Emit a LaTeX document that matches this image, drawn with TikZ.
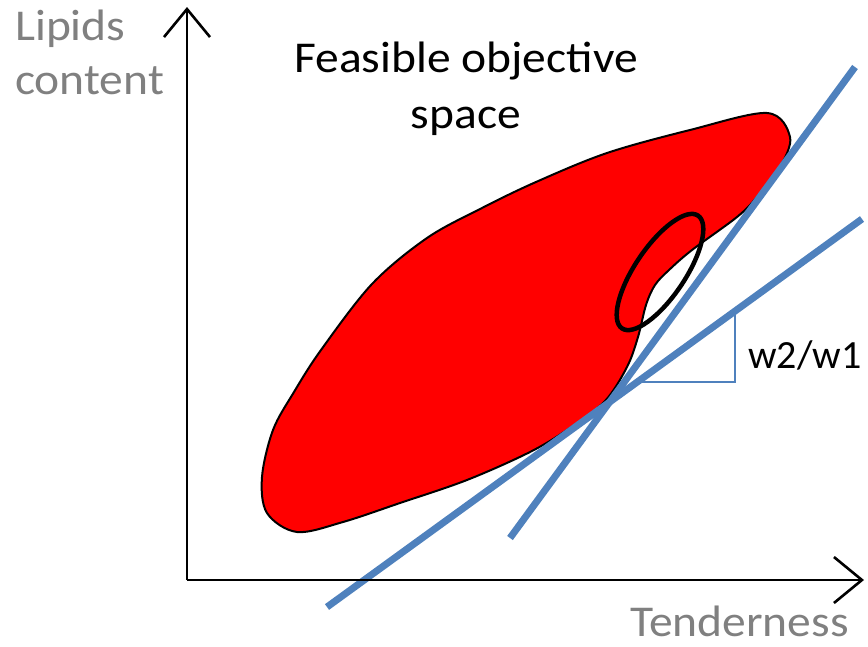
\documentclass[tikz,border=0pt]{standalone}
\usepackage{fontspec}
\setmainfont{Carlito}
\newfontfamily\widefont{Carlito}[FakeStretch=1.08]
\usetikzlibrary{arrows.meta}
\definecolor{blobred}{RGB}{255,0,0}
\definecolor{lineblue}{RGB}{79,129,189}
\definecolor{labelgray}{RGB}{128,128,128}
\begin{document}
\begin{tikzpicture}[x=1pt,y=-1pt,
  axis/.style={line width=2.6pt,-{Straight Barb[length=28pt,width=46pt]}},
  blob/.style={fill=blobred,draw=black,line width=2pt},
  tangent/.style={draw=lineblue,line width=7pt},
  slope/.style={draw=lineblue,line width=1.2pt},
  ring/.style={draw=black,line width=4.5pt},
  lbl/.style={inner sep=0pt,text=labelgray,font=\widefont\fontsize{44}{53}\selectfont},
  txt/.style={inner sep=0pt,text=black,font=\widefont\fontsize{44}{53}\selectfont},
  small/.style={inner sep=0pt,text=black,font=\fontsize{40}{48}\selectfont}]
\useasboundingbox (0,0) rectangle (868,646);
% blob
\draw[blob] plot[smooth cycle,tension=0.55] coordinates {
 (767,113) (690,130) (607,153) (536,182) (482,208) (427,238) (372,284)
 (321,350) (294,392) (273,430) (262,477) (267,513) (297,532) (343,522)
 (400,503) (467,480) (530,452) (570,428) (605,401) (627,367) (638,337)
 (646,305) (655,285) (669,270) (692,250) (737,217) (757,197) (780,167)
 (790,137)};
% tangent lines
\coordinate (s1) at (510,538);
\coordinate (s2) at (855,67);
\coordinate (t1) at (327,607);
\coordinate (t2) at (862,219);
\draw[tangent] (s1) -- (s2);
\draw[tangent] (t1) -- (t2);
% slope triangle
\coordinate (h1) at (639,382);
\coordinate (h2) at (735,382);
\coordinate (h3) at (735,314);
\draw[slope] (h1) -- (h2) -- (h3);
% ellipse
\coordinate (ec) at (660,272);
\draw[ring,rotate around={56:(ec)}] (ec) ellipse [x radius=68pt,y radius=25pt];
% axes
\coordinate (O) at (187,580);
\coordinate (ytip) at (187,7);
\coordinate (xtip) at (864,580);
\draw[axis] (O) -- (ytip);
\draw[axis] (O) -- (xtip);
% labels
\node[lbl,anchor=base west] (lip) at (15,40) {Lipids};
\node[lbl,anchor=base west] (con) at (15,94) {content};
\node[lbl,anchor=base west] (ten) at (630,636) {Tenderness};
\node[txt,anchor=base] (fea) at (466,72) {Feasible objective};
\node[txt,anchor=base] (spa) at (466,128) {space};
\node[small,anchor=base west] (wr) at (748,368) {w2/w1};
\end{tikzpicture}
\end{document}
